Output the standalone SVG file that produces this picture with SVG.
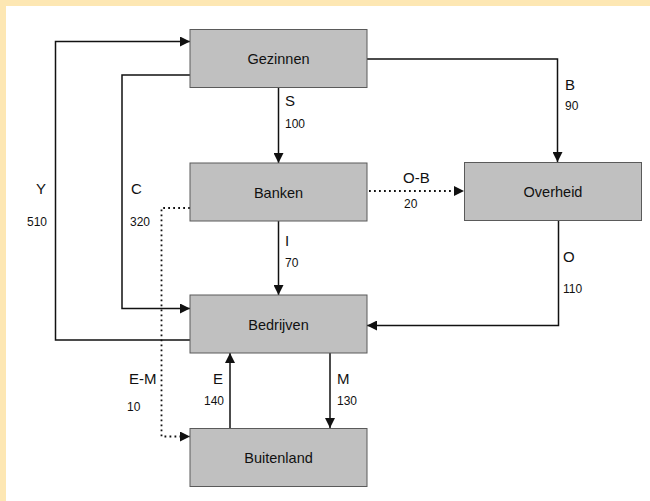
<svg xmlns="http://www.w3.org/2000/svg" width="650" height="501" viewBox="0 0 650 501">
<style>
.box{fill:#c0c0c0;stroke:#5a5a5a;stroke-width:1}
.nl{font-family:"Liberation Sans",Arial,sans-serif;font-size:14.5px;fill:#111;text-anchor:middle}
.lb{font-family:"Liberation Sans",Arial,sans-serif;font-size:15px;fill:#111}
.nm{font-family:"Liberation Sans",Arial,sans-serif;font-size:12px;fill:#111}
.ln{fill:none;stroke:#111;stroke-width:1.5}
.dt{fill:none;stroke:#111;stroke-width:1.8;stroke-dasharray:1.8 3.2}
</style>
<defs>
<marker id="ar" viewBox="0 0 10 10" refX="10" refY="5" markerWidth="10" markerHeight="10" markerUnits="userSpaceOnUse" orient="auto">
<path d="M0,0 L10,5 L0,10 Z" fill="#111"/>
</marker>
</defs>
<rect x="0" y="0" width="650" height="501" fill="#fff"/>
<rect x="0" y="0" width="650" height="6" fill="#fde7b3"/>
<rect x="0" y="0" width="6" height="501" fill="#fde7b3"/>
<g id="connectors">
<path class="ln" d="M190,340 H55.5 V41.5 H190" marker-end="url(#ar)"/>
<path class="ln" d="M190,75 H122 V308.5 H190" marker-end="url(#ar)"/>
<path class="dt" d="M190,208 H161.5 V436.5 H190" marker-end="url(#ar)"/>
<path class="ln" d="M278.5,87 V163" marker-end="url(#ar)"/>
<path class="ln" d="M367,59 H557.5 V162" marker-end="url(#ar)"/>
<path class="dt" d="M369,191 H464" marker-end="url(#ar)"/>
<path class="ln" d="M278.5,221 V295" marker-end="url(#ar)"/>
<path class="ln" d="M558.5,220 V325.5 H367" marker-end="url(#ar)"/>
<path class="ln" d="M230,428 V353" marker-end="url(#ar)"/>
<path class="ln" d="M330,353 V428" marker-end="url(#ar)"/>
</g>
<g id="labels">
<text class="lb" x="36" y="194">Y</text>
<text class="nm" x="27" y="226">510</text>
<text class="lb" x="131" y="194">C</text>
<text class="nm" x="130" y="226">320</text>
<text class="lb" x="285" y="106">S</text>
<text class="nm" x="285" y="128">100</text>
<text class="lb" x="565" y="90">B</text>
<text class="nm" x="565" y="110">90</text>
<text class="lb" x="403" y="183">O-B</text>
<text class="nm" x="404" y="208">20</text>
<text class="lb" x="285" y="246">I</text>
<text class="nm" x="285" y="267">70</text>
<text class="lb" x="563" y="262">O</text>
<text class="nm" x="563" y="293">110</text>
<text class="lb" x="129" y="384">E-M</text>
<text class="nm" x="127" y="411">10</text>
<text class="lb" x="223" y="384" text-anchor="end">E</text>
<text class="nm" x="224" y="405" text-anchor="end">140</text>
<text class="lb" x="337" y="384">M</text>
<text class="nm" x="337" y="405">130</text>
</g>
<g id="gezinnen"><rect class="box" x="190" y="29.5" width="177" height="58"/><text class="nl" x="278.5" y="63.5">Gezinnen</text></g>
<g id="banken"><rect class="box" x="190" y="163" width="177" height="58"/><text class="nl" x="278.5" y="197.5">Banken</text></g>
<g id="overheid"><rect class="box" x="464.5" y="162.5" width="177" height="58"/><text class="nl" x="553" y="196.5">Overheid</text></g>
<g id="bedrijven"><rect class="box" x="190" y="295" width="177" height="58"/><text class="nl" x="278.5" y="329.5">Bedrijven</text></g>
<g id="buitenland"><rect class="box" x="190" y="428.5" width="177" height="58"/><text class="nl" x="278.5" y="462.5">Buitenland</text></g>
</svg>
